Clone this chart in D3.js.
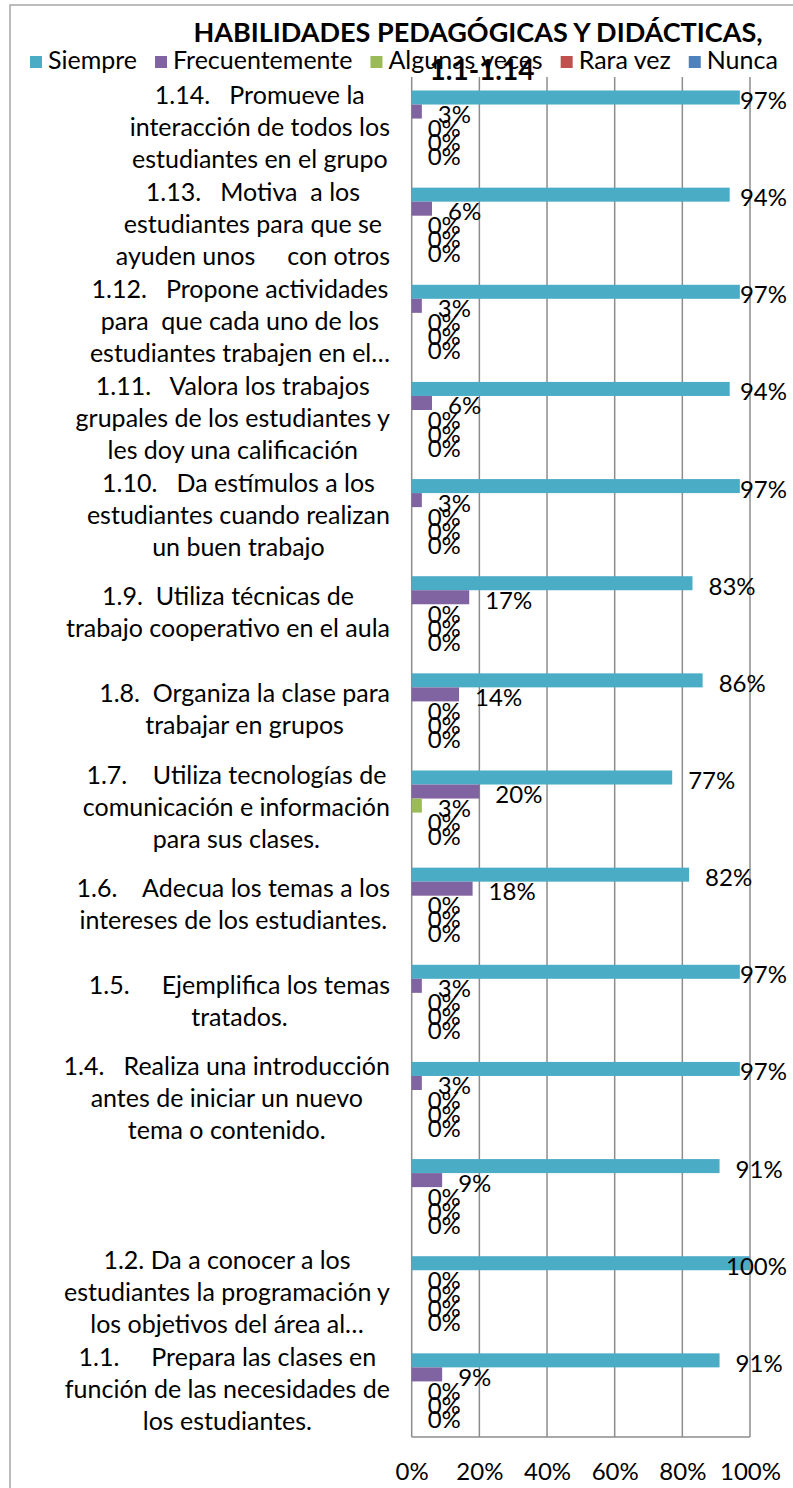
<!DOCTYPE html>
<html><head><meta charset="utf-8">
<script src="https://cdn.jsdelivr.net/npm/d3@7"></script>
<style>
html,body{margin:0;padding:0;background:#fff;}
svg{display:block;font-family:Lato, "Open Sans", sans-serif;}
</style></head>
<body>
<svg id="chart" width="793" height="1488"></svg>
<script>
// ---- data ----
const titleLines = ["HABILIDADES PEDAGÓGICAS Y DIDÁCTICAS,", "1.1-1.14"];
const categories = ["1.14","1.13","1.12","1.11","1.10","1.9","1.8","1.7","1.6","1.5","1.4","1.3","1.2","1.1"];
const categoryLabels = [
  ["1.14.   Promueve la", "interacción de todos los", "estudiantes en el grupo"],
  ["1.13.   Motiva  a los", "estudiantes para que se", "ayuden unos     con otros"],
  ["1.12.   Propone actividades", "para  que cada uno de los", "estudiantes trabajen en el…"],
  ["1.11.   Valora los trabajos", "grupales de los estudiantes y", "les doy una calificación"],
  ["1.10.   Da estímulos a los", "estudiantes cuando realizan", "un buen trabajo"],
  ["1.9.  Utiliza técnicas de", "trabajo cooperativo en el aula"],
  ["1.8.  Organiza la clase para", "trabajar en grupos"],
  ["1.7.    Utiliza tecnologías de", "comunicación e información", "para sus clases."],
  ["1.6.    Adecua los temas a los", "intereses de los estudiantes."],
  ["1.5.     Ejemplifica los temas", "tratados."],
  ["1.4.   Realiza una introducción", "antes de iniciar un nuevo", "tema o contenido."],
  [],
  ["1.2. Da a conocer a los", "estudiantes la programación y", "los objetivos del área al…"],
  ["1.1.     Prepara las clases en", "función de las necesidades de", "los estudiantes."]
];
const seriesNames = ["Siempre","Frecuentemente","Algunas veces","Rara vez","Nunca"];
const seriesColors = ["#4BACC6","#8064A2","#9BBB59","#C0504D","#4F81BD"];
const siempre        = [97,94,97,94,97,83,86,77,82,97,97,91,100,91];
const frecuentemente = [3,6,3,6,3,17,14,20,18,3,3,9,0,9];
const algunasVeces   = [0,0,0,0,0,0,0,3,0,0,0,0,0,0];
const raraVez        = [0,0,0,0,0,0,0,0,0,0,0,0,0,0];
const nunca          = [0,0,0,0,0,0,0,0,0,0,0,0,0,0];
const seriesValues = [siempre, frecuentemente, algunasVeces, raraVez, nunca];
const xTicks = [0,20,40,60,80,100];

// ---- layout ----
const svg = d3.select("#chart");
const plot = {left: 411.7, right: 750, top: 77, bottom: 1437};

// outer frame
svg.append("rect").attr("x",10).attr("y",5).attr("width",900).attr("height",1600)
  .attr("fill","none").attr("stroke","#a6a6a6").attr("stroke-width",1.5);

const x = d3.scaleLinear().domain([0,100]).range([plot.left, plot.right]);
const y = d3.scaleBand().domain(categories).range([plot.top, plot.bottom]);
const barPad = 13.5;
const yInner = d3.scaleBand().domain(seriesNames).range([barPad, y.bandwidth()-barPad]);

// gridlines
svg.append("g").selectAll("line").data(xTicks).join("line")
  .attr("x1",d=>x(d)).attr("x2",d=>x(d)).attr("y1",plot.top).attr("y2",plot.bottom)
  .attr("stroke","#8c8c8c").attr("stroke-width",1.5);
// bottom axis line
svg.append("line").attr("x1",plot.left).attr("x2",plot.right).attr("y1",plot.bottom).attr("y2",plot.bottom)
  .attr("stroke","#8c8c8c").attr("stroke-width",1.5);

// x tick labels
const xAxis = d3.axisBottom(x).tickValues(xTicks).tickFormat(d=>d+"%").tickSize(0).tickPadding(0);
const xg = svg.append("g").attr("transform",`translate(0,${plot.bottom})`).call(xAxis);
xg.select(".domain").remove();
xg.selectAll("text").attr("font-size",24).attr("fill","#000").attr("font-family","Lato")
  .attr("dy",null).attr("y",43);

// bars
const rows = [];
categories.forEach((c,i)=>{
  seriesNames.forEach((s,j)=>{ rows.push({cat:c, series:s, color:seriesColors[j], value:seriesValues[j][i]}); });
});
const bars = svg.append("g");
bars.selectAll("rect").data(rows).join("rect")
  .attr("x",x(0)).attr("y",d=>y(d.cat)+yInner(d.series))
  .attr("width",d=>Math.max(0,x(d.value)-x(0))).attr("height",yInner.bandwidth())
  .attr("fill",d=>d.color);

// value labels
const labelRightLimit = 787;
const vl = svg.append("g").selectAll("text").data(rows).join("text")
  .attr("font-size",24).attr("fill","#000")
  .attr("y",d=>y(d.cat)+yInner(d.series)+yInner.bandwidth()/2+2)
  .attr("dominant-baseline","central")
  .text(d=>d.value+"%");
vl.each(function(d){
  const w = this.getComputedTextLength();
  const px = Math.min(x(d.value)+16, labelRightLimit - w);
  d3.select(this).attr("x",px);
});

// category labels
const lineH = 32;
const catG = svg.append("g");
categories.forEach((c,i)=>{
  const lines = categoryLabels[i];
  if(!lines.length) return;
  const g = catG.append("g");
  const cy = y(c)+y.bandwidth()/2;
  const n = lines.length;
  const ts = g.selectAll("text").data(lines).join("text")
    .attr("font-size",25).attr("fill","#000").attr("text-anchor","middle")
    .attr("dominant-baseline","central")
    .attr("y",(d,k)=>cy+(k-(n-1)/2)*lineH)
    .style("white-space","pre").attr("xml:space","preserve")
    .text(d=>d);
  let maxW = 0;
  ts.each(function(){ maxW = Math.max(maxW, this.getComputedTextLength()); });
  ts.attr("x", 390 - maxW/2);
});

// title
const tg = svg.append("g").attr("font-weight","bold").attr("text-anchor","middle").attr("fill","#000");
tg.append("text").attr("x",478).attr("y",42).attr("font-size",27).text(titleLines[0]);
tg.append("text").attr("x",482).attr("y",80).attr("font-size",28).text(titleLines[1]);

// legend
const lg = svg.append("g");
let lx = 30;
seriesNames.forEach((s,j)=>{
  lg.append("rect").attr("x",lx).attr("y",56).attr("width",12).attr("height",12).attr("fill",seriesColors[j]);
  const t = lg.append("text").attr("x",lx+18).attr("y",69).attr("font-size",25).attr("fill","#000").text(s);
  lx += 18 + t.node().getComputedTextLength() + 18;
});
</script>
</body></html>
